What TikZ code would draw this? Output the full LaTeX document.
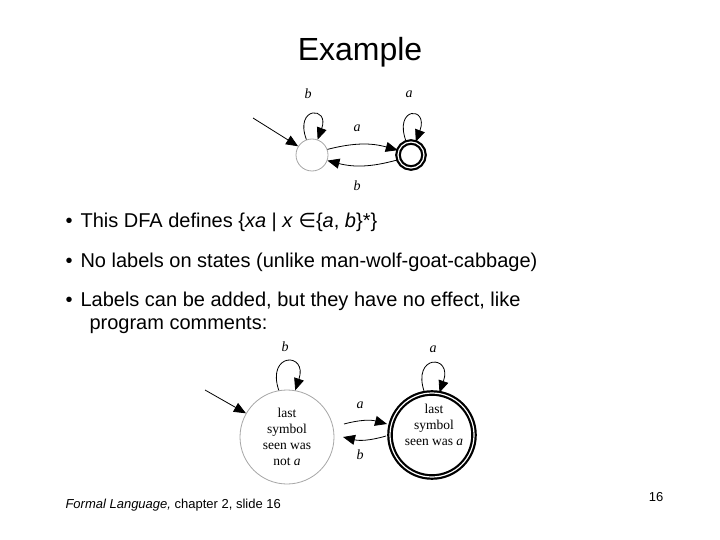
\documentclass[tikz,border=0pt]{standalone}
\usepackage{fontspec}
\setmainfont{Liberation Sans}
\newfontfamily\serf{Liberation Serif}
\newfontfamily\dejav{DejaVu Sans}
\usetikzlibrary{arrows.meta}
\begin{document}
\begin{tikzpicture}[x=1pt,y=-1pt,
  st/.style={circle,draw=gray!70,line width=0.8pt,inner sep=0pt},
  acc/.style={circle,draw,line width=2.2pt,inner sep=0pt,double=white,double distance=1.2pt},
  tr/.style={-{Triangle[length=12pt,width=10pt]},line width=0.8pt},
  lab/.style={font=\serf\itshape\fontsize{14}{14}\selectfont},
  inl/.style={font=\serf\fontsize{13.5}{16}\selectfont,align=center},
  txt/.style={anchor=west,font=\fontsize{20}{24}\selectfont}]
\useasboundingbox (0,0) rectangle (720,540);
\node[font=\fontsize{32}{36}\selectfont] (title) at (360,52) {Example};
% top DFA
\node[st,minimum size=32pt] (s1) at (312,155) {};
\node[acc,minimum size=26pt] (s2) at (411,155) {};
\coordinate (i1) at (253,118);
\draw[tr] (i1) -- (s1);
\draw[tr] (s1.110) .. controls (294,106) and (330,106) .. (s1.70);
\draw[tr] (s2.110) .. controls (393,106) and (429,106) .. (s2.70);
\draw[tr] (s1.20) to[bend left=15] (s2.160);
\draw[tr] (s2.200) to[bend left=15] (s1.-20);
\node[lab] (lb1) at (308,94) {b};
\node[lab] (la1) at (409,94) {a};
\node[lab] (la2) at (357,128) {a};
\node[lab] (lb2) at (357,186) {b};
% bullets
\node[txt] (t1) at (62,222) {•\hspace{8pt}This DFA defines \{\textit{xa} | \textit{x} {\dejav ∈}\{\textit{a}, \textit{b}\}*\}};
\node[txt] (t2) at (62,262) {•\hspace{8pt}No labels on states (unlike man-wolf-goat-cabbage)};
\node[txt] (t3) at (62,301) {•\hspace{8pt}Labels can be added, but they have no effect, like};
\node[txt] (t4) at (86,325) {program comments:};
% bottom DFA
\node[st,minimum size=94pt] (b1) at (287,437) {};
\node[inl] (b1t) at (287,437) {last\\symbol\\seen was\\not \textit{a}};
\node[acc,minimum size=84pt] (b2) at (432,435) {};
\node[inl] (b2t) at (434,425) {last\\symbol\\seen was \textit{a}};
\coordinate (i2) at (205,390);
\draw[tr] (i2) -- (b1.150);
\draw[tr] (b1.100) .. controls (266,352) and (308,352) .. (b1.80);
\draw[tr] (b2.100) .. controls (411,354) and (453,354) .. (b2.80);
\draw[tr] (344,424) to[bend left=15] (387,424);
\draw[tr] (386,436) to[bend left=15] (343,437);
\node[lab] (lb3) at (285,347) {b};
\node[lab] (la3) at (433,349) {a};
\node[lab] (la4) at (360,405) {a};
\node[lab] (lb4) at (360,455) {b};
% footer
\node[anchor=west,font=\fontsize{13}{15}\selectfont] (foot) at (62,505) {\textit{Formal Language,} chapter 2, slide 16};
\node[font=\fontsize{13}{15}\selectfont] (num) at (656,497) {16};
\end{tikzpicture}
\end{document}
